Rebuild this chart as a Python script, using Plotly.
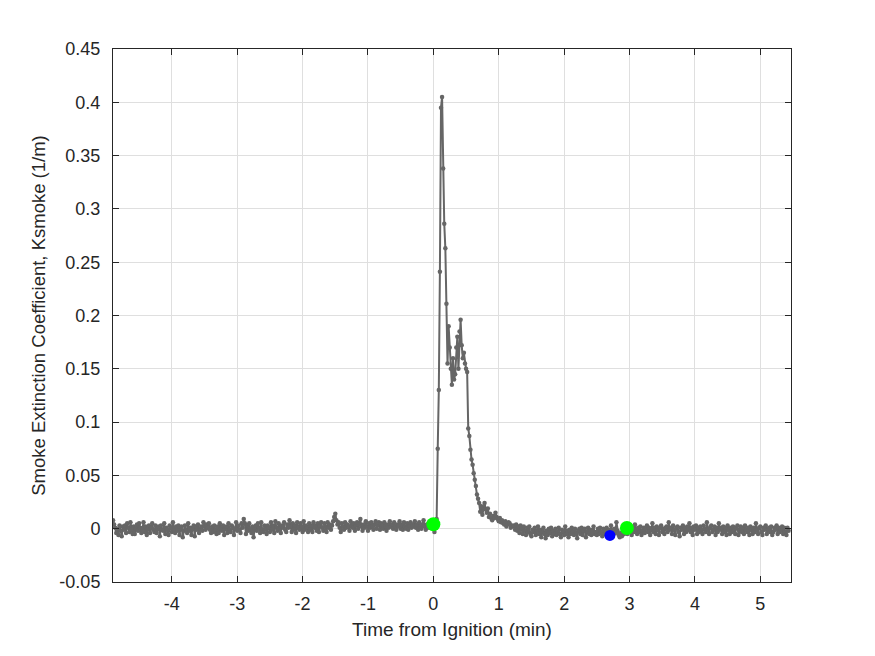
import plotly.graph_objects as go

# ---- data (Ksmoke in thousandths of 1/m, sampled every 1 s) ----
sample_sec = 1.0

pre_ignition_milli = [
    8, 4, 1, -4, 0, -6, 3, -2, -7, 2, -1, 3, -4, 5, 1, -3, 6, -1, -5, 2,
    -5, 0, 4, -2, 5, 1, -4, 0, 6, -3, 2, -6, 0, 3, -4, 1, 5, -1, -3, 3,
    -4, 0, 2, -7, 3, -1, -2, 5, -5, 1, -1, -6, 3, 1, -3, 6, -1, -4, 2, -2,
    3, -6, 0, 2, -8, -2, 3, -1, -4, 5, -2, 1, -6, 0, 3, -7, 2, -1, 4, -4,
    0, 2, -2, 6, 2, -1, 4, 1, 5, -1, -4, 2, -3, 3, -1, -5, 2, -4, 5, 0,
    -2, 3, -6, 0, 2, -4, 5, -1, -3, 3, 1, -6, 0, 6, -2, 3, -1, -4, 5, 1,
    9, 5, -5, 3, -2, 5, -1, -4, 2, -8, 0, 3, -2, 5, 1, -4, 6, -1, -3, 3,
    0, -5, 3, 1, -3, 6, -1, 3, -4, 7, 1, -2, 5, 0, -4, 3, 1, 6, -1, -3,
    4, 1, 8, 2, -3, 5, -1, 3, -4, 6, 1, -1, 5, 2, -3, 7, -1, 3, 1, -3,
    5, -1, 3, -3, 6, 1, 3, -2, 5, -3, 3, 6, 1, -2, 5, 2, -3, 6, 1, 4,
    -1, 3, 7, 11, 14, 8, 4, 6, 1, -3, 5, 2, -1, 6, 1, 4, 2, -2, 7, 2,
    1, 5, -2, 3, 6, 0, 4, 9, 2, -2, 4, 1, 7, 2, -2, 5, 1, 6, 2, -1,
    4, 7, 0, 3, 6, -1, 5, 2, 0, 6, 2, -2, 4, 1, 7, 2, 4, 0, 6, 2,
    -1, 4, 2, 7, 0, 4, -1, 6, 2, 0, 5, -1, 3, 6, 1, 4,
    2, 7, 1, 4, -1, 6, 2, 0, 4, 8, 2, -1, 4, 1, 6, 2, 4, 6,
]

event_milli = [
    5, -3, 2, 9, 75, 130, 241, 395, 405, 338, 286, 263, 211,
    155, 190, 170, 150, 135, 160, 140, 145, 170, 180, 150, 185, 196,
    172, 160, 165, 155, 150, 147, 94, 87, 74, 65, 60, 52, 46, 40,
    32, 28, 24, 16, 21, 13, 20, 24, 18, 15, 19, 11, 14, 10, 8,
    12, 10, 15, 11, 9, 7, 10, 6, 8, 5, 4, 7, 2, 4, 6, 5, 1, 3, 2,
]

post_event_milli = [
    3, -1, 4, -2, 2, -4, 3, 0, -5, 2, -2, -6, 1, -3, 2, -5, -7, -1, -3, 1,
    -6, -2, 2, -5, -1, -8, -3, 1, -5, -9, -2, -6, 0, -4, 1, -7, -2, -5, 0, -6,
    -3, 1, -5, -8, -1, -3, -6, 2, -5, -2, -8, -1, -5, 1, -3, -6, 0, -4, -9, -2,
    0, -5, 1, -6, -2, 0, -8, -3, 1, -5, -1, -6, -2, 2, -5, -3, -6, 0, -5, 1,
    -3, -7, 0, -5, -2, 1, -6, -1, -5, 3, -2, -6, 0, -4, 6, -2, -6, -8, -4, -7,
    0, -5, 3, 1, -5, -1, 2, -3, -6, 1, -3, 4, -1, -5, 1, -3, 2, -6, -2, 1,
    -4, 0, 3, -3, 1, -6, -1, 5, -3, 1, -5, 2, -1, -6, 1, 3, -3, 0, -5, 1,
    2, -3, 6, -1, 1, -5, 3, -1, -6, 1, 2, -3, -7, 1, -1, 3, -5, 1, -3, 2,
    -1, 5, -3, 1, -6, 2, -1, 3, -5, 1, -3, 2, -1, -5, 3, 0, -3, 6, -1, -5,
    1, 3, -3, -1, 2, -6, 1, -3, 5, -1, 1, -5, 2, -3, 1, -6, 3, -1, -5, 1,
    -3, 2, -1, -5, 1, 3, -6, -1, 2, -3, 1, -5, 3, -1, -3, 1, -6, 2, -1, -5,
    1, -3, 5, -1, -5, 1, 2, -3, -6, 1, -1, 3, -5, -1, 1, -3, 2, -6, -3, 1,
    -1, 3, -5, 1, -3, -1, 2, -5, 1, -3, -6, 1, -2,
]

ignition_time = [0.0]
ignition_ksmoke = [0.0042]
end_time = [2.96]
end_ksmoke = [0.0007]
min_time = [2.70]
min_ksmoke = [-0.0063]

x_tick_vals = [-4, -3, -2, -1, 0, 1, 2, 3, 4, 5]
x_tick_text = ["-4", "-3", "-2", "-1", "0", "1", "2", "3", "4", "5"]
y_tick_vals = [-0.05, 0, 0.05, 0.1, 0.15, 0.2, 0.25, 0.3, 0.35, 0.4, 0.45]
y_tick_text = ["-0.05", "0", "0.05", "0.1", "0.15", "0.2", "0.25", "0.3", "0.35", "0.4", "0.45"]

# ---- build series ----
all_milli = pre_ignition_milli + event_milli + post_event_milli
ksmoke = [v / 1000.0 for v in all_milli]
n_pre = len(pre_ignition_milli)
time_min = [(i - n_pre) * sample_sec / 60.0 for i in range(len(all_milli))]

fig = go.Figure()
fig.add_trace(go.Scatter(
    x=time_min, y=ksmoke, mode="lines+markers",
    line=dict(color="#666666", width=2),
    marker=dict(color="#666666", size=4.5),
    showlegend=False, hoverinfo="skip",
))
fig.add_trace(go.Scatter(x=ignition_time, y=ignition_ksmoke, mode="markers",
                         marker=dict(color="#00ff00", size=14), showlegend=False))
fig.add_trace(go.Scatter(x=end_time, y=end_ksmoke, mode="markers",
                         marker=dict(color="#00ff00", size=14), showlegend=False))
fig.add_trace(go.Scatter(x=min_time, y=min_ksmoke, mode="markers",
                         marker=dict(color="#0000ff", size=11), showlegend=False))

FONT = "Liberation Sans, Arial, sans-serif"
axis_common = dict(
    showgrid=True, gridcolor="#dfdfdf", gridwidth=1,
    showline=True, linecolor="#262626", linewidth=1, mirror="ticks",
    ticks="inside", ticklen=6, tickcolor="#262626",
    tickfont=dict(family=FONT, size=18, color="#262626"),
    zeroline=False,
)

fig.update_xaxes(
    range=[-4.9, 5.47], tickvals=x_tick_vals, ticktext=x_tick_text,
    title=dict(text="Time from Ignition (min)", standoff=10,
               font=dict(family=FONT, size=19, color="#262626")),
    ticklabelstandoff=5,
    **axis_common,
)
fig.update_yaxes(
    range=[-0.05, 0.45], tickvals=y_tick_vals, ticktext=y_tick_text,
    title=dict(text="Smoke Extinction Coefficient, Ksmoke (1/m)", standoff=8,
               font=dict(family=FONT, size=18.5, color="#262626")),
    ticklabelstandoff=8,
    **axis_common,
)

fig.update_layout(
    width=875, height=656,
    margin=dict(l=113, r=84, t=49, b=74),
    paper_bgcolor="white", plot_bgcolor="white",
)

fig.write_html("out.html")
